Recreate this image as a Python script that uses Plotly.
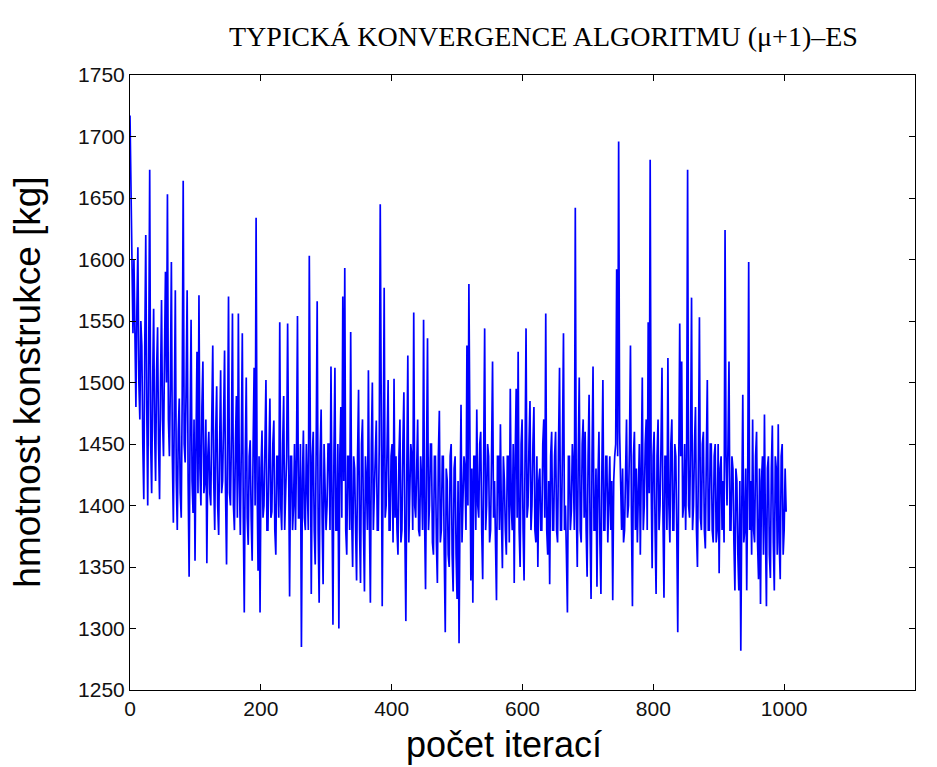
import numpy as np
import plotly.graph_objects as go

# Peak/trough values (about every 3 iterations)
mass_extremes = [
    1717, 1640, 1600, 1480, 1610, 1470, 1530, 1405, 1620, 1400,
    1673, 1410, 1560, 1420, 1545, 1405, 1567, 1440, 1590, 1653,
    1440, 1598, 1386, 1575, 1380, 1487, 1390, 1664, 1435, 1575,
    1342, 1551, 1394, 1355, 1525, 1571, 1400, 1517, 1420, 1353,
    1460, 1400, 1530, 1380, 1497, 1376, 1510, 1420, 1526, 1352,
    1570, 1400, 1556, 1380, 1489, 1556, 1376, 1540, 1313, 1504,
    1368, 1453, 1355, 1512, 1634, 1347, 1313, 1461, 1400, 1502,
    1380, 1487, 1395, 1469, 1360, 1440, 1549, 1380, 1489, 1410,
    1548, 1326, 1440, 1400, 1380, 1554, 1390, 1285, 1461, 1380,
    1420, 1603, 1328, 1460, 1352, 1566, 1321, 1478, 1336, 1420,
    1400, 1450, 1513, 1303, 1512, 1380, 1300, 1480, 1570, 1593,
    1360, 1440, 1541, 1350, 1430,
    1339, 1494, 1337, 1470, 1330, 1420, 1510, 1321, 1500, 1420,
    1469, 1380, 1645, 1318, 1577, 1400, 1502, 1380, 1450, 1503,
    1440, 1360, 1470, 1380, 1492, 1306, 1522, 1400, 1440, 1557,
    1390, 1470, 1375, 1420, 1551, 1332, 1536, 1400, 1450, 1360,
    1440, 1337, 1477, 1380, 1440, 1297, 1420, 1350, 1450, 1330,
    1440, 1324, 1288, 1482, 1400, 1430, 1530, 1580, 1339, 1321,
    1440, 1478, 1390, 1460, 1340, 1544, 1400, 1440, 1380, 1517,
    1420, 1323, 1440, 1466, 1349, 1420, 1360, 1440, 1495, 1380,
    1337, 1495, 1525, 1350, 1470, 1339, 1544, 1400, 1485, 1400,
    1480, 1370, 1350, 1430, 1380, 1470, 1556, 1360, 1336, 1460,
    1380, 1460, 1370, 1512, 1380, 1540, 1400, 1313, 1440, 1396,
    1430, 1642, 1350, 1504, 1370, 1470, 1460, 1342, 1490, 1324,
    1513, 1380, 1334, 1460, 1328, 1502, 1380, 1440, 1400, 1380,
    1323, 1440, 1592, 1696, 1420, 1430, 1380, 1470, 1400, 1530,
    1318, 1460, 1430, 1400, 1360, 1504, 1400, 1470, 1549, 1681,
    1349, 1460, 1328, 1470, 1400, 1512, 1325, 1440, 1520, 1370,
    1470, 1380, 1440, 1297, 1548, 1517, 1400, 1380, 1673, 1390,
    1569, 1400, 1480, 1350, 1553, 1380, 1460, 1365, 1502, 1380,
    1450, 1370, 1450, 1380, 1345, 1440, 1420, 1624, 1400, 1517,
    1380, 1430, 1331, 1420, 1331, 1282, 1490, 1380, 1331, 1598,
    1420, 1470, 1370, 1460, 1340, 1320, 1440, 1474, 1318, 1440,
    1341, 1465, 1331, 1430, 1466, 1340, 1450, 1380, 1395,
]

# Values inside the dense core band, read between the extremes above
mass_core = [
    1660, 1540, 1520, 1560, 1500, 1550, 1450, 1530, 1480, 1520,
    1450, 1500, 1460, 1510, 1450, 1500, 1470, 1520, 1500, 1470,
    1500, 1440, 1480, 1420, 1460, 1410, 1490, 1450, 1500, 1420,
    1460, 1420, 1470, 1450, 1410, 1430, 1480, 1410, 1470, 1440,
    1410, 1470, 1420, 1460, 1400, 1450, 1410, 1470, 1410, 1450,
    1410, 1460, 1400, 1450, 1390, 1420, 1450, 1390, 1440, 1390,
    1440, 1390, 1450, 1400, 1420, 1440, 1430, 1390, 1450, 1380,
    1440, 1390, 1450, 1380, 1440, 1390, 1400, 1450, 1380, 1440,
    1390, 1440, 1380, 1450, 1440, 1390, 1450, 1420, 1390, 1450,
    1380, 1400, 1440, 1380, 1450, 1380, 1440, 1390, 1450, 1380,
    1450, 1380, 1390, 1440, 1380, 1450, 1440, 1390, 1420, 1380,
    1440, 1380, 1390, 1440, 1380,
    1440, 1380, 1450, 1380, 1440, 1380, 1390, 1450, 1380, 1440,
    1380, 1450, 1400, 1440, 1390, 1450, 1380, 1440, 1370, 1390,
    1380, 1440, 1370, 1450, 1380, 1430, 1370, 1450, 1380, 1400,
    1450, 1380, 1440, 1380, 1390, 1440, 1380, 1450, 1370, 1440,
    1370, 1440, 1370, 1440, 1360, 1430, 1360, 1440, 1360, 1430,
    1360, 1420, 1400, 1370, 1440, 1380, 1400, 1420, 1430, 1440,
    1380, 1400, 1450, 1380, 1440, 1380, 1450, 1370, 1440, 1390,
    1370, 1440, 1380, 1390, 1440, 1380, 1440, 1370, 1400, 1450,
    1440, 1390, 1380, 1450, 1380, 1440, 1390, 1450, 1380, 1450,
    1380, 1440, 1420, 1380, 1450, 1390, 1380, 1420, 1440, 1380,
    1440, 1380, 1450, 1380, 1450, 1380, 1360, 1440, 1380, 1450,
    1380, 1400, 1440, 1380, 1450, 1390, 1380, 1440, 1380, 1440,
    1380, 1430, 1420, 1370, 1430, 1380, 1440, 1370, 1440, 1420,
    1420, 1450, 1440, 1460, 1380, 1370, 1450, 1390, 1450, 1390,
    1440, 1380, 1370, 1450, 1440, 1380, 1450, 1380, 1410, 1420,
    1440, 1380, 1440, 1380, 1450, 1390, 1440, 1380, 1400, 1450,
    1380, 1450, 1380, 1430, 1440, 1390, 1450, 1440, 1400, 1450,
    1380, 1450, 1380, 1440, 1390, 1450, 1380, 1440, 1380, 1450,
    1380, 1440, 1370, 1450, 1430, 1380, 1370, 1440, 1450, 1380,
    1440, 1370, 1430, 1360, 1420, 1400, 1370, 1430, 1420, 1380,
    1360, 1380, 1440, 1370, 1430, 1420, 1360, 1380, 1430, 1360,
    1430, 1370, 1440, 1360, 1370, 1440, 1360, 1430,
]

# Merge: extreme, core, extreme, core, ...
mass = []
for i, v in enumerate(mass_extremes):
    mass.append(v)
    if i < len(mass_core):
        mass.append(mass_core[i])
iterations = np.linspace(0, 1003, len(mass))

title_text = "TYPICKÁ KONVERGENCE ALGORITMU (μ+1)–ES"
x_title = "počet iterací"
y_title = "hmotnost konstrukce [kg]"
x_ticks = [0, 200, 400, 600, 800, 1000, 1200]
y_ticks = [1250, 1300, 1350, 1400, 1450, 1500, 1550, 1600, 1650, 1700, 1750]

fig = go.Figure()
fig.add_trace(go.Scatter(x=iterations, y=mass, mode="lines",
                         line=dict(color="#0000FF", width=1.7), showlegend=False))

axis_common = dict(showgrid=False, zeroline=False, showline=True, linecolor="black",
                   linewidth=1, mirror="ticks", ticks="inside", ticklen=6,
                   tickcolor="black",
                   tickfont=dict(family="Liberation Sans", size=21, color="#111111"))

fig.update_layout(
    width=937, height=767,
    margin=dict(l=130, r=22, t=75, b=77),
    paper_bgcolor="white", plot_bgcolor="white",
    title=dict(text=title_text, x=0.58, xanchor="center", y=0.953, yanchor="middle",
               font=dict(family="Liberation Serif", size=28, color="black")),
    xaxis=dict(range=[0, 1200], tickvals=x_ticks, ticktext=[str(v) for v in x_ticks],
               **axis_common),
    yaxis=dict(range=[1250, 1750], tickvals=y_ticks, ticktext=[str(v) for v in y_ticks],
               **axis_common),
    annotations=[
        dict(text=x_title, xref="paper", yref="paper", x=0.476, y=-0.0894,
             xanchor="center", yanchor="middle", showarrow=False,
             font=dict(family="Liberation Sans", size=36, color="black")),
        dict(text=y_title, xref="paper", yref="paper", x=-0.131, y=0.5,
             xanchor="center", yanchor="middle", textangle=-90, showarrow=False,
             font=dict(family="Liberation Sans", size=37, color="black")),
    ],
)

fig.write_html("out.html")
